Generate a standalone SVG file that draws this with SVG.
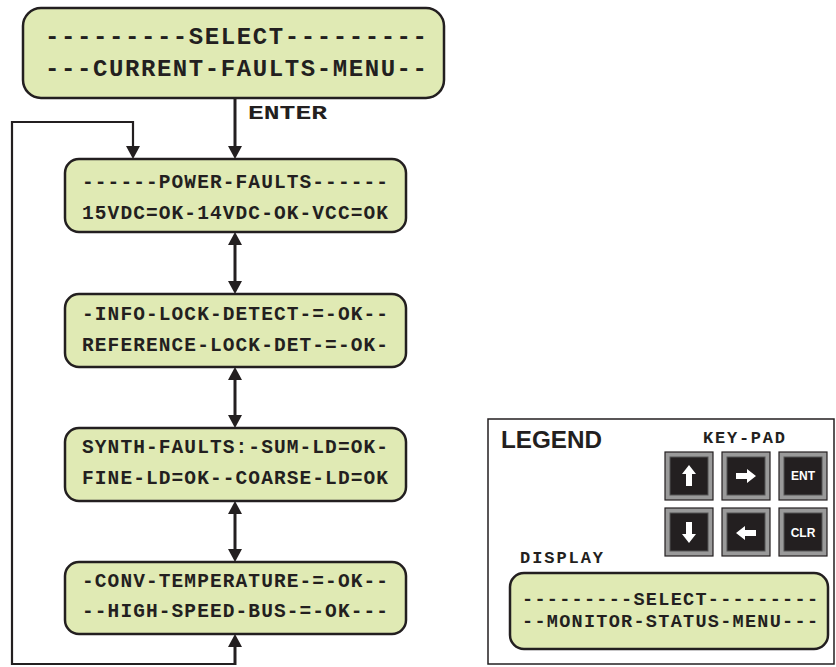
<svg xmlns="http://www.w3.org/2000/svg" width="836" height="667" viewBox="0 0 836 667">
<style>
.box{fill:#e0eab4;stroke:#231f20;stroke-width:2.5}
.mono{font-family:"Liberation Mono","Courier New",monospace;font-weight:bold;fill:#231f20}
.t22{font-size:24px}
.t18{font-size:19.5px}
.t17{font-size:18.5px}
.t16{font-size:17px}
.conn{fill:none;stroke:#231f20;stroke-width:3}
.thin{fill:none;stroke:#231f20;stroke-width:2.2}
.keyo{fill:#9a9a9a;stroke:#231f20;stroke-width:1.2}
.keyi{fill:#231f20;stroke:#555;stroke-width:1}
.kt{font-family:"Liberation Sans",Arial,sans-serif;font-weight:bold;font-size:12px;fill:#fff}
.arw{fill:#fff}
</style>
<defs>
<marker id="ah" markerUnits="userSpaceOnUse" markerWidth="13" markerHeight="14" refX="0" refY="7" orient="auto-start-reverse" viewBox="0 0 13 14">
<path d="M0,0 L13,7 L0,14 z" fill="#231f20"/>
</marker>
</defs>
<rect width="836" height="667" fill="#fff"/>

<g id="connectors">
<path class="conn" d="M235,98 V146" marker-end="url(#ah)"/>
<path class="conn" d="M235,245 V281" marker-start="url(#ah)" marker-end="url(#ah)"/>
<path class="conn" d="M235,380 V415" marker-start="url(#ah)" marker-end="url(#ah)"/>
<path class="conn" d="M235,514 V549" marker-start="url(#ah)" marker-end="url(#ah)"/>
<path class="conn" d="M235,665 V647" marker-end="url(#ah)"/>
<path class="thin" d="M235,664 H12 V122 H133 V146" marker-end="url(#ah)"/>
<text class="mono" x="248" y="119" font-size="21" textLength="79" lengthAdjust="spacingAndGlyphs">ENTER</text>
</g>

<g id="select-current-faults">
<rect class="box" x="23" y="8" width="421" height="90" rx="18"/>
<text class="mono t22" x="45" y="44" textLength="382" lengthAdjust="spacing">---------SELECT---------</text>
<text class="mono t22" x="45" y="76" textLength="382" lengthAdjust="spacing">---CURRENT-FAULTS-MENU--</text>
</g>

<g id="power-faults">
<rect class="box" x="65" y="159" width="341" height="73" rx="14"/>
<text class="mono t18" x="82" y="188" textLength="306" lengthAdjust="spacing">------POWER-FAULTS------</text>
<text class="mono t18" x="82" y="219" textLength="306" lengthAdjust="spacing">15VDC=OK-14VDC-OK-VCC=OK</text>
</g>

<g id="lock-detect">
<rect class="box" x="65" y="294" width="341" height="73" rx="14"/>
<text class="mono t18" x="82" y="320" textLength="306" lengthAdjust="spacing">-INFO-LOCK-DETECT-=-OK--</text>
<text class="mono t18" x="82" y="351" textLength="306" lengthAdjust="spacing">REFERENCE-LOCK-DET-=-OK-</text>
</g>

<g id="synth-faults">
<rect class="box" x="65" y="428" width="341" height="73" rx="14"/>
<text class="mono t18" x="82" y="453" textLength="306" lengthAdjust="spacing">SYNTH-FAULTS:-SUM-LD=OK-</text>
<text class="mono t18" x="82" y="484" textLength="306" lengthAdjust="spacing">FINE-LD=OK--COARSE-LD=OK</text>
</g>

<g id="conv-temperature">
<rect class="box" x="65" y="562" width="341" height="72" rx="14"/>
<text class="mono t18" x="82" y="587" textLength="306" lengthAdjust="spacing">-CONV-TEMPERATURE-=-OK--</text>
<text class="mono t18" x="82" y="617" textLength="306" lengthAdjust="spacing">--HIGH-SPEED-BUS-=-OK---</text>
</g>

<g id="legend">
<rect x="488" y="419" width="346" height="245" fill="#fff" stroke="#231f20" stroke-width="1.5"/>
<text x="501" y="448" font-family="'Liberation Sans',Arial,sans-serif" font-weight="bold" font-size="23" fill="#231f20" textLength="101" lengthAdjust="spacingAndGlyphs">LEGEND</text>
<text class="mono t16" x="703" y="443" textLength="82" lengthAdjust="spacing">KEY-PAD</text>
<text class="mono t16" x="520" y="563" textLength="83" lengthAdjust="spacing">DISPLAY</text>

<g id="key-up">
<rect class="keyo" x="665" y="452" width="48" height="48"/>
<rect class="keyi" x="670" y="457" width="38" height="38"/>
<path class="arw" d="M689,465 L696,474 L692,474 L692,486 L686,486 L686,474 L682,474 z"/>
</g>
<g id="key-right">
<rect class="keyo" x="722" y="452" width="48" height="48"/>
<rect class="keyi" x="727" y="457" width="38" height="38"/>
<path class="arw" d="M756,476 L747,469 L747,473 L736,473 L736,479 L747,479 L747,483 z"/>
</g>
<g id="key-ent">
<rect class="keyo" x="779" y="452" width="48" height="48"/>
<rect class="keyi" x="784" y="457" width="38" height="38"/>
<text class="kt" x="803" y="480" text-anchor="middle">ENT</text>
</g>
<g id="key-down">
<rect class="keyo" x="665" y="508" width="48" height="48"/>
<rect class="keyi" x="670" y="513" width="38" height="38"/>
<path class="arw" d="M689,543 L696,534 L692,534 L692,522 L686,522 L686,534 L682,534 z"/>
</g>
<g id="key-left">
<rect class="keyo" x="722" y="508" width="48" height="48"/>
<rect class="keyi" x="727" y="513" width="38" height="38"/>
<path class="arw" d="M736,533 L745,526 L745,530 L756,530 L756,536 L745,536 L745,540 z"/>
</g>
<g id="key-clr">
<rect class="keyo" x="779" y="508" width="48" height="48"/>
<rect class="keyi" x="784" y="513" width="38" height="38"/>
<text class="kt" x="803" y="537" text-anchor="middle">CLR</text>
</g>

<g id="display">
<rect class="box" x="510" y="573" width="318" height="76" rx="14"/>
<text class="mono t17" x="522" y="605" textLength="296" lengthAdjust="spacing">---------SELECT---------</text>
<text class="mono t17" x="522" y="627" textLength="296" lengthAdjust="spacing">--MONITOR-STATUS-MENU---</text>
</g>
</g>
</svg>
